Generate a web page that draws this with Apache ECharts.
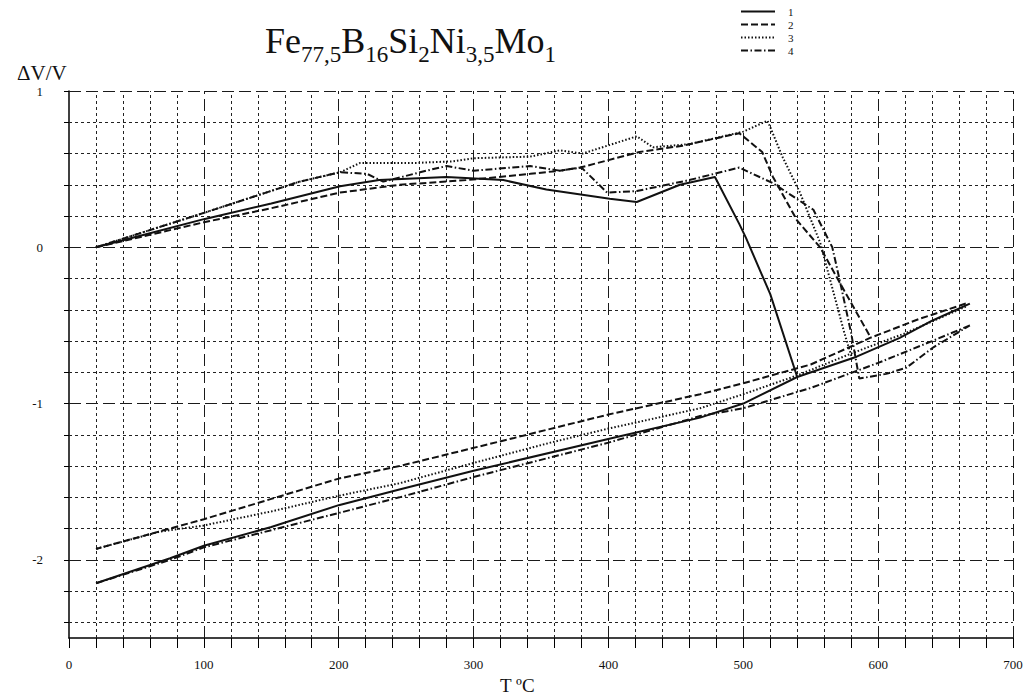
<!DOCTYPE html>
<html><head><meta charset="utf-8">
<script src="https://cdn.jsdelivr.net/npm/echarts@6/dist/echarts.min.js"></script>
<style>html,body{margin:0;padding:0;background:#fff}#c{width:1033px;height:697px}</style>
</head><body><div id="c"></div>
<script>
// ---- axis / grid values ----
const xLabelValues = [0,100,200,300,400,500,600,700];
const yLabelValues = [1,0,-1,-2];
const majorX = [100,200,300,400,500,600,700];
const minorX = [20,40,60,80,120,140,160,180,220,240,260,280,320,340,360,380,420,440,460,480,520,540,560,580,620,640,660,680];
const majorY = [1,0,-1,-2];
const minorY = [0.8,0.6,0.4,0.2,-0.2,-0.4,-0.6,-0.8,-1.2,-1.4,-1.6,-1.8,-2.2,-2.4];
const legendNames = ['1','2','3','4'];

// ---- curve 1 (solid) ----
const c1HeatT = [20,60,100,150,201,230,280,322,354,401,421,453,479,497,502,520,540];
const c1HeatV = [0,0.09,0.18,0.28,0.39,0.43,0.45,0.43,0.37,0.31,0.29,0.40,0.45,0.15,0.06,-0.30,-0.83];
const c1CoolT = [668,640,616,584,540,500,468,403,300,245,200,150,100,75,20];
const c1CoolV = [-0.36,-0.47,-0.58,-0.70,-0.83,-1.00,-1.09,-1.22,-1.43,-1.55,-1.65,-1.79,-1.91,-1.99,-2.15];

// ---- curve 2 (dashed) ----
const c2HeatT = [20,60,100,150,201,245,295,342,364,379,423,455,497,514,522,540,557,575,594];
const c2HeatV = [0,0.08,0.16,0.25,0.35,0.40,0.43,0.47,0.49,0.51,0.61,0.65,0.73,0.61,0.45,0.17,0.0,-0.28,-0.57];
const c2CoolT = [665,630,594,550,500,468,400,330,245,200,150,100,20];
const c2CoolV = [-0.36,-0.46,-0.58,-0.75,-0.87,-0.94,-1.07,-1.22,-1.40,-1.48,-1.61,-1.74,-1.93];

// ---- curve 3 (dotted) ----
const c3HeatT = [20,100,171,201,216,258,285,300,342,364,381,421,433,460,500,518,529,542,557,566,575,581];
const c3HeatV = [0,0.22,0.42,0.48,0.54,0.54,0.55,0.57,0.58,0.62,0.60,0.71,0.64,0.66,0.74,0.81,0.58,0.35,0.03,-0.26,-0.55,-0.72];
const c3CoolT = [665,620,580,540,500,468,400,357,300,245,200,150,100,67,20];
const c3CoolV = [-0.38,-0.55,-0.68,-0.82,-0.94,-1.03,-1.16,-1.25,-1.38,-1.51,-1.59,-1.69,-1.78,-1.82,-1.93];

// ---- curve 4 (dash-dot) ----
const c4HeatT = [20,100,171,201,221,233,265,280,300,342,364,380,399,421,460,497,522,552,566,572,580,586,606,621,641,668];
const c4HeatV = [0,0.22,0.42,0.48,0.47,0.42,0.49,0.52,0.49,0.52,0.49,0.51,0.35,0.36,0.43,0.51,0.41,0.24,0.0,-0.23,-0.55,-0.84,-0.81,-0.77,-0.64,-0.50];
const c4CoolT = [668,640,600,550,500,468,400,300,245,200,150,100,75,20];
const c4CoolV = [-0.50,-0.60,-0.74,-0.90,-1.03,-1.08,-1.25,-1.47,-1.60,-1.70,-1.81,-1.92,-2.00,-2.15];

function path(ht, hv, ct, cv) {
  const d = ht.map((t, i) => [t, hv[i]]);
  d.push(['-', '-']);
  ct.forEach((t, i) => d.push([t, cv[i]]));
  return d;
}

const INK = '#111';
const SERIF = 'Liberation Serif, Times New Roman, serif';
const top0 = 91, unit = 547 / 3.5;

const gridLines = [];
majorY.forEach(v => gridLines.push({yAxis: v, lineStyle: {type: [12, 5], color: '#1a1a1a', width: 1}}));
minorY.forEach(v => gridLines.push({yAxis: v, lineStyle: {type: [3, 3], color: '#222', width: 1}}));
majorX.forEach(v => gridLines.push({xAxis: v, lineStyle: {type: [12, 5], color: '#1a1a1a', width: 1}}));
minorX.forEach(v => gridLines.push({xAxis: v, lineStyle: {type: [3, 3], color: '#222', width: 1}}));

function curve(name, data, dash) {
  return {
    name: name, type: 'line', data: data, symbol: 'none', showSymbol: false,
    connectNulls: false, silent: true, z: 5, animation: false,
    color: INK,
    lineStyle: {color: INK, width: 2, type: dash}
  };
}

const chart = echarts.init(document.getElementById('c'), null, {renderer: 'svg'});
chart.setOption({
  backgroundColor: '#fff',
  animation: false,
  title: {
    text: '{b|Fe}{s|77,5}{b|B}{s|16}{b|Si}{s|2}{b|Ni}{s|3,5}{b|Mo}{s|1}',
    left: 260, top: 25,
    textStyle: {
      fontWeight: 'normal',
      rich: {
        b: {fontFamily: SERIF, fontWeight: 'normal', fontSize: 36, color: INK, lineHeight: 36, padding: [0, 0, 7, 0], verticalAlign: 'bottom'},
        s: {fontFamily: SERIF, fontWeight: 'normal', fontSize: 23, color: INK, lineHeight: 23, verticalAlign: 'bottom'}
      }
    }
  },
  legend: {
    data: legendNames, orient: 'vertical', left: 735, top: 1,
    itemWidth: 34, itemHeight: 9, itemGap: 2,
    itemStyle: {opacity: 0},
    textStyle: {fontFamily: SERIF, fontSize: 11, lineHeight: 10, color: INK, padding: [0, 0, 0, 8]},
    selectedMode: false
  },
  graphic: [
    {type: 'text', left: 17, top: 62, style: {text: 'ΔV/V', font: '21px ' + SERIF, fill: INK}},
    {type: 'text', left: 500, top: 676, style: {text: 'T ºC', font: '19px ' + SERIF, fill: INK}}
  ],
  grid: [
    {left: 69, top: top0, width: 944, height: 3.5 * unit},
    {left: 69, top: top0, width: 944, height: 3.4 * unit}
  ],
  xAxis: [
    {
      gridIndex: 0, type: 'value', min: 0, max: 700, interval: 20,
      axisLine: {show: true, onZero: false, lineStyle: {color: '#000', width: 1.5}},
      axisTick: {show: true, length: 10, inside: false, lineStyle: {color: '#000', width: 1}},
      axisLabel: {
        margin: 20, fontFamily: SERIF, fontSize: 13, color: INK,
        formatter: v => xLabelValues.indexOf(Math.round(v)) >= 0 && Math.abs(v - Math.round(v)) < 1e-6 ? String(Math.round(v)) : ''
      },
      splitLine: {show: false}
    },
    {
      gridIndex: 1, type: 'value', min: 0, max: 700, show: false
    }
  ],
  yAxis: [
    {
      gridIndex: 0, type: 'value', min: -2.5, max: 1, interval: 0.5,
      axisLine: {show: true, onZero: false, lineStyle: {color: '#000', width: 1.5}},
      axisTick: {show: false},
      axisLabel: {
        margin: 26, fontFamily: SERIF, fontSize: 13, color: INK,
        formatter: v => {
          const r = Math.round(v);
          return (Math.abs(v - r) < 1e-6 && yLabelValues.indexOf(r) >= 0) ? String(r) : '';
        }
      },
      splitLine: {show: false}
    },
    {
      gridIndex: 1, type: 'value', min: -2.4, max: 1, interval: 0.2,
      axisLine: {show: false, onZero: false},
      axisTick: {show: true, length: 5, inside: false, lineStyle: {color: '#000', width: 1}},
      axisLabel: {show: false},
      splitLine: {show: false}
    }
  ],
  series: [
    {
      type: 'line', data: [], xAxisIndex: 0, yAxisIndex: 0, silent: true, z: 1,
      markLine: {symbol: ['none', 'none'], silent: true, animation: false, label: {show: false}, data: gridLines}
    },
    curve('1', path(c1HeatT, c1HeatV, c1CoolT, c1CoolV), 'solid'),
    curve('2', path(c2HeatT, c2HeatV, c2CoolT, c2CoolV), [7, 3]),
    curve('3', path(c3HeatT, c3HeatV, c3CoolT, c3CoolV), [1.5, 2]),
    curve('4', path(c4HeatT, c4HeatV, c4CoolT, c4CoolV), [7, 2.5, 1.5, 2.5])
  ]
});
</script>
</body></html>
